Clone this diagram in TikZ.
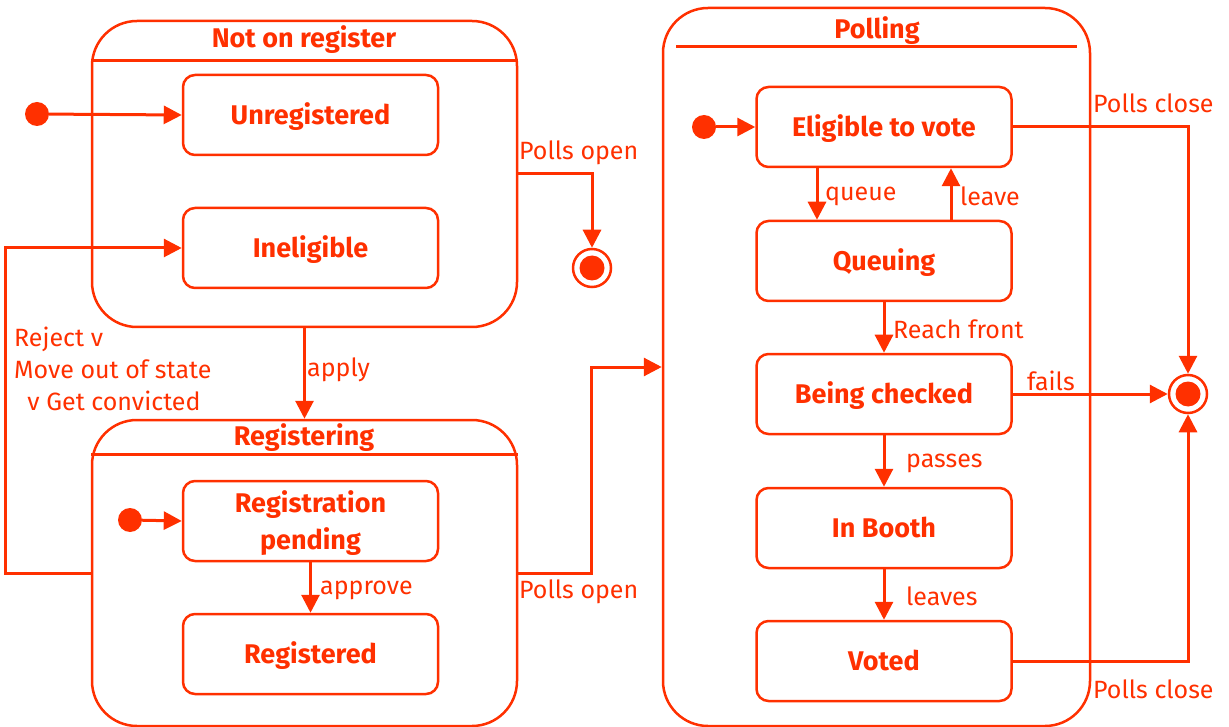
\documentclass[tikz,border=0pt]{standalone}
\usepackage{fontspec}
\setmainfont{Fira Sans}
\usetikzlibrary{arrows.meta}
\definecolor{umlred}{RGB}{255,48,0}
\tikzset{
  every node/.style={text=umlred},
  statebox/.style={draw=umlred, line width=2.5pt, rounded corners=12pt, minimum width=255pt, minimum height=80pt, font=\fontsize{27}{37}\selectfont\bfseries, align=center, inner sep=0pt, text depth=2pt},
  compbox/.style={draw=umlred, line width=2.5pt, rounded corners=45pt, inner sep=0pt},
  initst/.style={circle, fill=umlred, minimum size=24pt, inner sep=0pt},
  finalst/.style={circle, draw=umlred, line width=2.5pt, minimum size=38pt, inner sep=0pt},
  arr/.style={draw=umlred, line width=3pt, -{Triangle[length=18pt,width=18pt]}},
  lbl/.style={font=\fontsize{25}{32}\selectfont, inner sep=0pt, anchor=west},
  ttl/.style={font=\fontsize{27}{30}\selectfont\bfseries, inner sep=0pt},
}
\begin{document}
\begin{tikzpicture}[x=1pt,y=-1pt]
\useasboundingbox (0,0) rectangle (1229,727);
% composite states
\node[compbox, minimum width=425pt, minimum height=306pt] (nor) at (304.5,174) {};
\draw[umlred, line width=3pt] (nor.west |- 0,61) coordinate (norhl) -- (nor.east |- 0,61) coordinate (norhr);
\node[ttl] (nort) at (304,40) {Not on register};
\node[compbox, minimum width=425pt, minimum height=306pt] (reg) at (304.5,573) {};
\draw[umlred, line width=3pt] (reg.west |- 0,454) coordinate (reghl) -- (reg.east |- 0,454) coordinate (reghr);
\node[ttl] (regt) at (304,438) {Registering};
\node[compbox, minimum width=427pt, minimum height=718pt] (poll) at (876.5,367) {};
\draw[umlred, line width=3pt] (676,47) coordinate (pollhl) -- (1077,47) coordinate (pollhr);
\node[ttl] (pollt) at (877,31) {Polling};
% simple states
\node[statebox] (unreg) at (310.5,115) {Unregistered};
\node[statebox] (inel) at (310.5,248) {Ineligible};
\node[statebox] (pend) at (310.5,521) {Registration\\pending};
\node[statebox] (regd) at (310.5,654) {Registered};
\node[statebox] (elig) at (884,127) {Eligible to vote};
\node[statebox] (que) at (884,261) {Queuing};
\node[statebox] (chk) at (884,394) {Being checked};
\node[statebox] (booth) at (884,528) {In Booth};
\node[statebox] (voted) at (884,661) {Voted};
% pseudo states
\node[initst] (i1) at (37,114) {};
\node[initst] (i2) at (130,520) {};
\node[initst] (i3) at (704,127) {};
\node[finalst] (f1) at (592,268) {};
\fill[umlred] (f1.center) circle (12.5);
\node[finalst] (f2) at (1188,394) {};
\fill[umlred] (f2.center) circle (12.5);
% transitions
\draw[arr] (i1) -- (unreg.west);
\draw[arr] (i2) -- (pend.west);
\draw[arr] (i3) -- (elig.west);
\draw[arr] (nor.east) -| (f1.north);
\draw[arr] (reg.west) -- ++(-85,0) |- (inel.west);
\draw[arr] (nor.south) -- (reg.north);
\draw[arr] (pend.south) -- (regd.north);
\draw[arr] (reg.east) -- ++(73,0) |- (poll.west);
\draw[arr] ([xshift=-67pt]elig.south) -- ([xshift=-67pt]que.north);
\draw[arr] ([xshift=67pt]que.north) -- ([xshift=67pt]elig.south);
\draw[arr] (que.south) -- (chk.north);
\draw[arr] (chk.south) -- (booth.north);
\draw[arr] (booth.south) -- (voted.north);
\draw[arr] (chk.east) -- (f2.west);
\draw[arr] (elig.east) -| (f2.north);
\draw[arr] (voted.east) -| (f2.south);
% labels
\node[lbl] (l1) at (519,153) {Polls open};
\node[lbl] (l2) at (519,592) {Polls open};
\node[lbl] (l3) at (307,370) {apply};
\node[lbl] (l4) at (320,590) {approve};
\node[lbl, align=left, anchor=north west] (l5) at (14,327) {Reject v\\Move out of state\\\ \ v Get convicted};
\node[lbl] (l6) at (825,196) {queue};
\node[lbl] (l7) at (960,196) {leave};
\node[lbl] (l8) at (893,329) {Reach front};
\node[lbl] (l9) at (1027,381) {fails};
\node[lbl] (l10) at (906,463) {passes};
\node[lbl] (l11) at (906,596) {leaves};
\node[lbl] (l12) at (1093,103) {Polls close};
\node[lbl] (l13) at (1093,689) {Polls close};
\end{tikzpicture}
\end{document}
